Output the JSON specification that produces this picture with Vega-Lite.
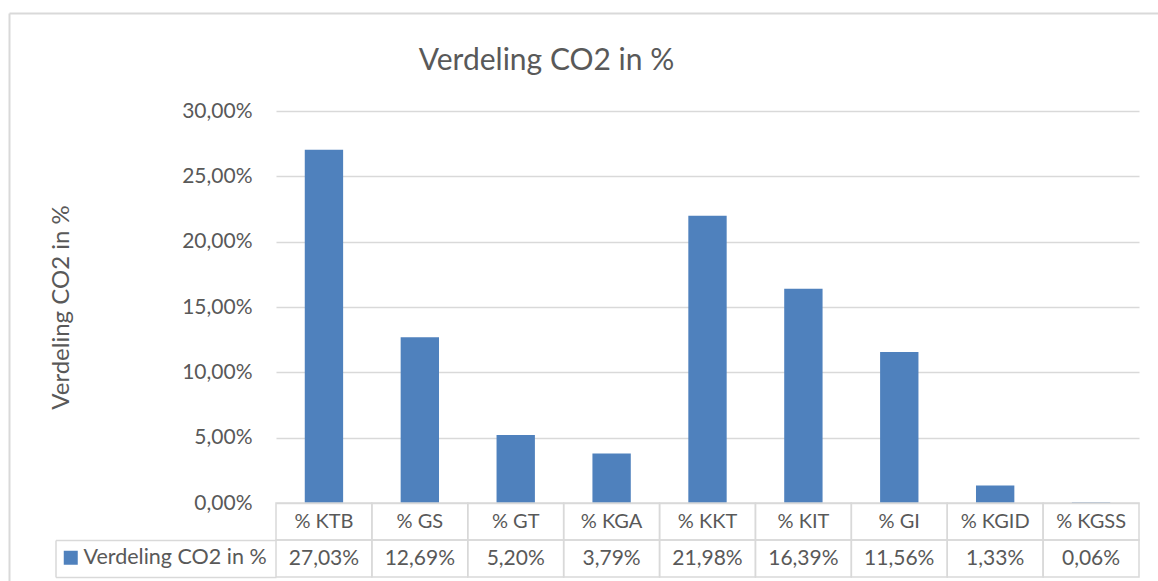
{
  "$schema": "https://vega.github.io/schema/vega-lite/v6.json",
  "autosize": "none",
  "width": 863,
  "height": 392,
  "padding": {"left": 276, "top": 111, "right": 19, "bottom": 78},
  "background": "white",
  "title": {
    "text": "Verdeling CO2 in %",
    "font": "Lato",
    "fontSize": 30,
    "fontWeight": "normal",
    "color": "#595959",
    "anchor": "middle",
    "frame": "group",
    "dx": -161,
    "baseline": "alphabetic",
    "offset": -87
  },
  "data": {
    "values": [
      {"categorie": "% KTB", "waarde": 0.2703},
      {"categorie": "% GS", "waarde": 0.1269},
      {"categorie": "% GT", "waarde": 0.0520},
      {"categorie": "% KGA", "waarde": 0.0379},
      {"categorie": "% KKT", "waarde": 0.2198},
      {"categorie": "% KIT", "waarde": 0.1639},
      {"categorie": "% GI", "waarde": 0.1156},
      {"categorie": "% KGID", "waarde": 0.0133},
      {"categorie": "% KGSS", "waarde": 0.0006}
    ]
  },
  "layer": [
    {
      "mark": {"type": "bar"},
      "encoding": {
        "x": {
          "field": "categorie",
          "type": "nominal",
          "sort": null,
          "scale": {"type": "band", "paddingInner": 0.6, "paddingOuter": 0.3},
          "axis": null
        },
        "y": {
          "field": "waarde",
          "type": "quantitative",
          "scale": {"domain": [0, 0.3], "nice": false},
          "axis": {
            "title": "Verdeling CO2 in %",
            "titleFont": "Lato",
            "titleFontSize": 24,
            "titleFontWeight": "normal",
            "titleColor": "#595959",
            "titlePadding": 108,
            "values": [0, 0.05, 0.1, 0.15, 0.2, 0.25, 0.3],
            "format": ".2%",
            "labelFont": "Lato",
            "labelFontSize": 21,
            "labelColor": "#595959",
            "labelPadding": 24,
            "ticks": false,
            "domain": false,
            "grid": true,
            "gridColor": "#d9d9d9",
            "gridWidth": 1.5
          }
        },
        "color": {
          "datum": "Verdeling CO2 in %",
          "type": "nominal",
          "scale": {"range": ["#4f81bd"]},
          "legend": {
            "title": null,
            "orient": "none",
            "legendX": -216,
            "legendY": 436,
            "padding": 0,
            "symbolType": "square",
            "symbolSize": 196,
            "symbolStrokeWidth": 0,
            "labelFont": "Lato",
            "labelFontSize": 21.5,
            "labelColor": "#595959",
            "labelOffset": 2,
            "labelLimit": 0
          }
        }
      }
    },
    {
      "encoding": {
        "x": {
          "field": "categorie",
          "type": "nominal",
          "sort": null,
          "scale": {"type": "band", "paddingInner": 0.6, "paddingOuter": 0.3},
          "axis": null
        },
        "y": {
          "datum": "val",
          "type": "nominal",
          "scale": {"type": "band", "domain": ["cat", "val"], "range": [392, 466], "paddingInner": 0, "paddingOuter": 0},
          "axis": null
        }
      },
      "layer": [
        {
          "mark": {"type": "rect", "fill": "transparent", "stroke": "#d9d9d9", "strokeWidth": 1.5, "width": {"band": 2.5}},
          "encoding": {"y": {"datum": "cat", "type": "nominal"}}
        },
        {
          "mark": {"type": "rect", "fill": "transparent", "stroke": "#d9d9d9", "strokeWidth": 1.5, "width": {"band": 2.5}},
          "encoding": {"y": {"datum": "val", "type": "nominal"}}
        },
        {
          "mark": {"type": "text", "font": "Lato", "fontSize": 20, "color": "#595959", "baseline": "middle"},
          "encoding": {
            "y": {"datum": "cat", "type": "nominal"},
            "text": {"field": "categorie", "type": "nominal"}
          }
        },
        {
          "mark": {"type": "text", "font": "Lato", "fontSize": 21, "color": "#595959", "baseline": "middle"},
          "encoding": {
            "y": {"datum": "val", "type": "nominal"},
            "text": {"field": "waarde", "type": "quantitative", "format": ".2%"}
          }
        }
      ]
    },
    {
      "mark": {"type": "text", "opacity": 0},
      "encoding": {
        "x": {
          "field": "categorie",
          "type": "nominal",
          "sort": null,
          "scale": {"type": "band", "paddingInner": 0.6, "paddingOuter": 0.3},
          "axis": null
        },
        "y": {
          "datum": "val",
          "type": "nominal",
          "scale": {"type": "band", "domain": ["val"], "range": [429, 466], "paddingInner": 0, "paddingOuter": 0},
          "axis": {
            "orient": "left",
            "title": null,
            "labels": false,
            "offset": 220.5,
            "tickBand": "extent",
            "tickSize": -220.5,
            "tickColor": "#d9d9d9",
            "tickWidth": 1.5,
            "domainColor": "#d9d9d9",
            "domainWidth": 1.5,
            "grid": false
          }
        },
        "text": {"value": ""}
      }
    },
    {
      "mark": {"type": "text", "opacity": 0},
      "encoding": {
        "x": {
          "datum": 0,
          "type": "quantitative",
          "scale": {"domain": [0, 1], "range": [-267, 882], "nice": false, "zero": false},
          "axis": {"orient": "top", "offset": 98, "title": null, "labels": false, "ticks": false, "grid": false, "domainColor": "#d9d9d9", "domainWidth": 2}
        },
        "y": {
          "datum": 0,
          "type": "quantitative",
          "scale": {"domain": [0, 1], "range": [470, -98], "nice": false, "zero": false},
          "axis": {"orient": "left", "offset": 267, "title": null, "labels": false, "ticks": false, "grid": false, "domainColor": "#d9d9d9", "domainWidth": 2}
        },
        "text": {"value": ""}
      }
    }
  ],
  "resolve": {"scale": {"y": "independent", "x": "independent"}},
  "config": {
    "locale": {"number": {"decimal": ",", "thousands": ".", "grouping": [3], "currency": ["€", ""]}},
    "view": {"stroke": null}
  }
}
